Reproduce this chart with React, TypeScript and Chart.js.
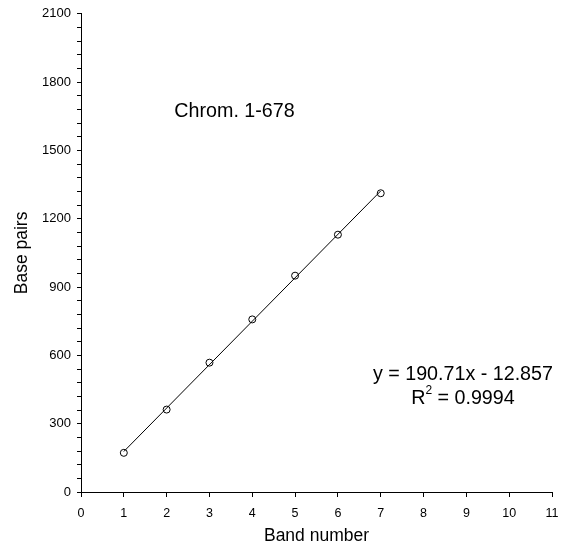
import React, { useEffect, useRef } from "react";
import { Chart, registerables } from "chart.js";

Chart.register(...registerables);

// ---- Data ----
const bandNumbers = [1, 2, 3, 4, 5, 6, 7];
const basePairs = [172, 362, 568, 758, 950, 1130, 1312];
const trendSlope = 190.71;
const trendIntercept = -12.857;
const trendRange = [1, 7];
const xTickValues = [0, 1, 2, 3, 4, 5, 6, 7, 8, 9, 10, 11];
const yTickLabels = [0, 300, 600, 900, 1200, 1500, 1800, 2100];
const yMinorStep = 60;
const xAxisTitle = "Band number";
const yAxisTitle = "Base pairs";
const annotationTitle = "Chrom. 1-678";
const equationText = "y = 190.71x - 12.857";
const r2Text = " = 0.9994";

const FONT = "'Liberation Sans', Arial, Helvetica, sans-serif";
const ANN_SIZE = 19.7;

const textPlugin = {
  id: "textAnnotations",
  afterDraw(chart: any) {
    const { ctx, scales } = chart;
    const xs = scales.x;
    const ys = scales.y;
    ctx.save();
    ctx.fillStyle = "#000";
    ctx.textBaseline = "middle";
    ctx.font = `${ANN_SIZE}px ${FONT}`;
    // Chromosome label
    ctx.textAlign = "center";
    ctx.fillText(annotationTitle, xs.getPixelForValue(3.585), ys.getPixelForValue(1672));
    // Equation
    const cx = xs.getPixelForValue(8.92);
    ctx.fillText(equationText, cx, ys.getPixelForValue(517));
    // R^2 line
    const ry = ys.getPixelForValue(410);
    ctx.font = `${ANN_SIZE}px ${FONT}`;
    const wR = ctx.measureText("R").width;
    const wRest = ctx.measureText(r2Text).width;
    ctx.font = `12px ${FONT}`;
    const wSup = ctx.measureText("2").width;
    const total = wR + wSup + wRest;
    const x0 = cx - total / 2;
    ctx.textAlign = "left";
    ctx.font = `${ANN_SIZE}px ${FONT}`;
    ctx.fillText("R", x0, ry);
    ctx.font = `12px ${FONT}`;
    ctx.fillText("2", x0 + wR, ry - 8);
    ctx.font = `${ANN_SIZE}px ${FONT}`;
    ctx.fillText(r2Text, x0 + wR + wSup, ry);
    ctx.restore();
  },
};

export default function App() {
  const canvasRef = useRef<HTMLCanvasElement | null>(null);

  useEffect(() => {
    if (!canvasRef.current) return;
    const points = bandNumbers.map((b, i) => ({ x: b, y: basePairs[i] }));
    const trend = trendRange.map((x) => ({ x, y: trendSlope * x + trendIntercept }));
    const chart = new Chart(canvasRef.current, {
      type: "scatter",
      data: {
        datasets: [
          {
            label: "Bands",
            data: points,
            pointRadius: 3.5,
            pointBorderColor: "#000",
            pointBackgroundColor: "rgba(0,0,0,0)",
            pointBorderWidth: 1,
            showLine: false,
          },
          {
            label: "Trend",
            data: trend,
            showLine: true,
            borderColor: "#000",
            borderWidth: 1,
            pointRadius: 0,
          },
        ],
      },
      options: {
        animation: false,
        responsive: true,
        maintainAspectRatio: false,
        layout: { padding: { left: 0, top: 13, right: 17, bottom: 0 } },
        plugins: {
          legend: { display: false },
          tooltip: { enabled: false },
        },
        scales: {
          x: {
            type: "linear",
            min: xTickValues[0],
            max: xTickValues[xTickValues.length - 1],
            afterFit: (s: any) => {
              s.height = 58;
            },
            afterBuildTicks: (s: any) => {
              s.ticks = xTickValues.map((v) => ({ value: v }));
            },
            ticks: {
              autoSkip: false,
              maxRotation: 0,
              padding: 9,
              color: "#000",
              font: { family: FONT, size: 12.5 },
            },
            grid: {
              display: true,
              drawOnChartArea: false,
              drawTicks: true,
              tickLength: 5,
              color: "#000",
              lineWidth: 1,
            },
            border: { display: true, color: "#000", width: 1 },
            title: {
              display: true,
              text: xAxisTitle,
              color: "#000",
              font: { family: FONT, size: 17.5 },
              padding: { top: 0, bottom: 3 },
            },
          },
          y: {
            type: "linear",
            min: yTickLabels[0],
            max: yTickLabels[yTickLabels.length - 1],
            afterFit: (s: any) => {
              s.width = 81;
            },
            ticks: {
              stepSize: yMinorStep,
              autoSkip: false,
              padding: 6,
              color: "#000",
              font: { family: FONT, size: 13 },
              callback: (v: any) => (yTickLabels.includes(Number(v)) ? String(v) : ""),
            },
            grid: {
              display: true,
              drawOnChartArea: false,
              drawTicks: true,
              tickLength: 4,
              color: "#000",
              lineWidth: 1,
            },
            border: { display: true, color: "#000", width: 1 },
            title: {
              display: true,
              text: yAxisTitle,
              color: "#000",
              font: { family: FONT, size: 17.5 },
              padding: { top: 12, bottom: 0 },
            },
          },
        },
      },
      plugins: [textPlugin],
    });
    return () => chart.destroy();
  }, []);

  return (
    <div style={{ position: "absolute", left: 0, top: 0, width: 569, height: 550, background: "#fff" }}>
      <canvas ref={canvasRef} />
    </div>
  );
}
